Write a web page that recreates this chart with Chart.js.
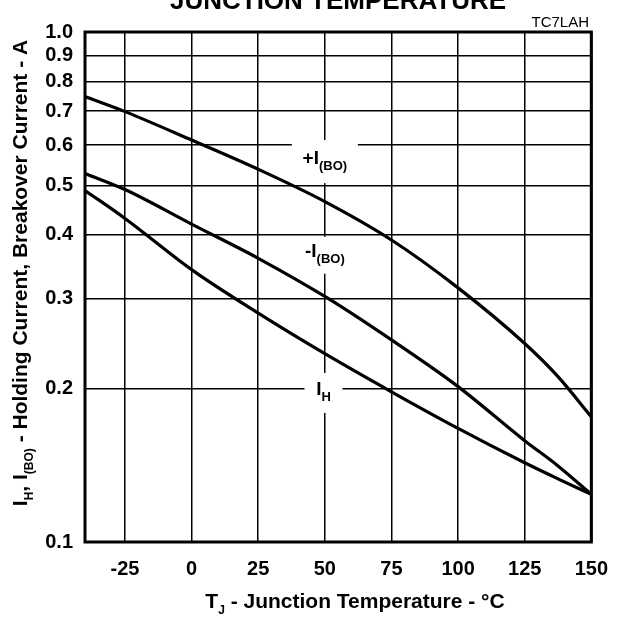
<!DOCTYPE html>
<html>
<head>
<meta charset="utf-8">
<script src="https://cdn.jsdelivr.net/npm/chart.js@4.4.0/dist/chart.umd.min.js"></script>
<style>
  html, body { margin: 0; padding: 0; background: #fff; }
  #wrap { width: 623px; height: 618px; }
</style>
</head>
<body>
<div id="wrap"><canvas id="tjChart" width="623" height="618"></canvas></div>
<script>
// junction temperature (deg C) and currents (A)
const temps = [-40, -25, 0, 25, 50, 75, 100, 125, 137.5, 150];
const ibo_pos = [0.747, 0.698, 0.614, 0.538, 0.465, 0.391, 0.315, 0.245, 0.211, 0.176];
const ibo_neg = [0.528, 0.491, 0.420, 0.360, 0.303, 0.249, 0.2017, 0.158, 0.141, 0.124];
const ih = [0.489, 0.431, 0.342, 0.281, 0.234, 0.197, 0.167, 0.143, 0.133, 0.124];

const xTicks = [-25, 0, 25, 50, 75, 100, 125, 150];
const yTicks = [0.1, 0.2, 0.3, 0.4, 0.5, 0.6, 0.7, 0.8, 0.9, 1.0];

// curve labels: main, sub, temp, current, box w, box h
const curveLabels = [
  ['+I', '(BO)', 50, 0.557, 66, 43],
  ['-I', '(BO)', 50, 0.365, 66, 37],
  ['I', 'H', 49.5, 0.196, 38, 40]
];

const FONT = '"Liberation Sans", Arial, Helvetica, sans-serif';

function pts(vals) {
  return temps.map((t, i) => ({ x: t, y: vals[i] }));
}

// draw a list of [text, isSub] runs centred on x
function drawRuns(ctx, runs, x, y, size, subSize) {
  let w = 0;
  runs.forEach(r => {
    ctx.font = 'bold ' + (r[1] ? subSize : size) + 'px ' + FONT;
    w += ctx.measureText(r[0]).width;
  });
  let cx = x - w / 2;
  ctx.textAlign = 'left';
  ctx.textBaseline = 'middle';
  runs.forEach(r => {
    ctx.font = 'bold ' + (r[1] ? subSize : size) + 'px ' + FONT;
    ctx.fillText(r[0], cx, r[1] ? y + size * 0.4 : y);
    cx += ctx.measureText(r[0]).width;
  });
}

const extras = {
  id: 'extras',
  beforeDatasetsDraw(chart) {
    const ctx = chart.ctx;
    const xs = chart.scales.x, ys = chart.scales.y;
    ctx.save();
    curveLabels.forEach(l => {
      const px = xs.getPixelForValue(l[2]);
      const py = ys.getPixelForValue(l[3]);
      ctx.fillStyle = '#fff';
      ctx.fillRect(px - l[4] / 2, py - l[5] / 2, l[4], l[5]);
      ctx.fillStyle = '#000';
      drawRuns(ctx, [[l[0], false], [l[1], true]], px, py - 3, 19, 13);
    });
    ctx.restore();
  },
  afterDraw(chart) {
    const ctx = chart.ctx;
    const a = chart.chartArea;
    ctx.save();
    ctx.strokeStyle = '#000';
    ctx.lineWidth = 3;
    ctx.strokeRect(a.left, a.top, a.right - a.left, a.bottom - a.top);

    ctx.fillStyle = '#000';
    // cut-off title at top
    ctx.font = 'bold 26px ' + FONT;
    ctx.textAlign = 'center';
    ctx.textBaseline = 'alphabetic';
    ctx.fillText('JUNCTION TEMPERATURE', 338, 9);

    ctx.font = '15px ' + FONT;
    ctx.textAlign = 'right';
    ctx.fillText('TC7LAH', 589, 27);

    // x axis title
    drawRuns(ctx, [['T', false], ['J', true], [' - Junction Temperature - °C', false]],
      355, 602, 21, 12);

    // y axis title
    ctx.translate(21, 273);
    ctx.rotate(-Math.PI / 2);
    drawRuns(ctx, [['I', false], ['H', true], [', I', false], ['(BO)', true],
      [' - Holding Current, Breakover Current - A', false]], 0, 0, 21, 12);
    ctx.restore();
  }
};

function series(vals) {
  return {
    data: pts(vals),
    borderColor: '#000',
    borderWidth: 3.2,
    pointRadius: 0,
    fill: false,
    cubicInterpolationMode: 'monotone'
  };
}

new Chart(document.getElementById('tjChart'), {
  type: 'line',
  data: { datasets: [series(ibo_pos), series(ibo_neg), series(ih)] },
  options: {
    responsive: false,
    animation: false,
    layout: { padding: { top: 32, right: 27, left: 0, bottom: 0 } },
    plugins: { legend: { display: false }, tooltip: { enabled: false } },
    scales: {
      x: {
        type: 'linear',
        min: -40,
        max: 150,
        afterBuildTicks: s => { s.ticks = xTicks.map(v => ({ value: v })); },
        afterFit: s => { s.height = 76; },
        grid: { color: '#000', lineWidth: 1.5, drawTicks: false },
        border: { display: false },
        ticks: {
          color: '#000',
          padding: 15,
          maxRotation: 0,
          font: { family: FONT, size: 20, weight: 'bold' }
        }
      },
      y: {
        type: 'logarithmic',
        min: 0.1,
        max: 1.0,
        afterBuildTicks: s => { s.ticks = yTicks.map(v => ({ value: v })); },
        afterFit: s => { s.width = 85; },
        grid: { color: '#000', lineWidth: 1.5, drawTicks: false },
        border: { display: false },
        ticks: {
          color: '#000',
          padding: 12,
          callback: v => Number(v).toFixed(1),
          font: { family: FONT, size: 20, weight: 'bold' }
        }
      }
    }
  },
  plugins: [extras]
});
</script>
</body>
</html>
